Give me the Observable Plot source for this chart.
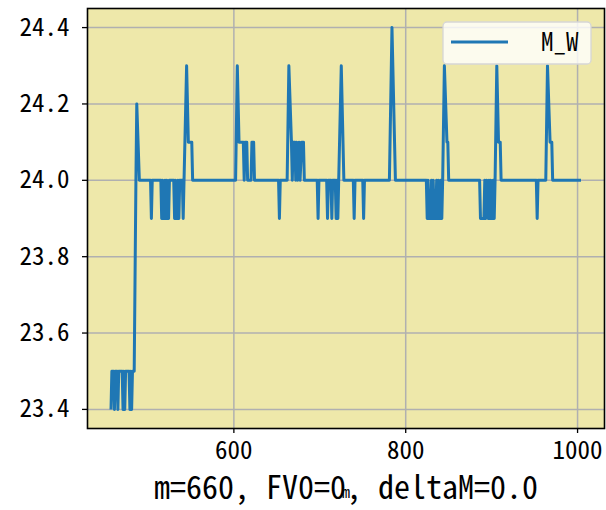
<!DOCTYPE html>
<html>
<head>
<meta charset="utf-8">
<script src="https://cdn.jsdelivr.net/npm/d3@7"></script>
<script src="https://cdn.jsdelivr.net/npm/@observablehq/plot@0.6"></script>
<style>
  html, body { margin: 0; padding: 0; background: #fff; }
  #chart svg { font-family: "Noto Sans CJK SC", "DejaVu Sans Mono", monospace; font-feature-settings: "hwid" 1; }
</style>
</head>
<body>
<div id="chart"></div>
<script>
const mValues = [457,458,460,461,462,464,465,466,470,471,472,473,474,478,479,480,481,482,484,486,487,490,
  503,504,505,515,516,517,518,519,520,521,522,523,524,525,530,531,532,533,534,535,536,537,540,541,542,545,547,551,552,
  602,604,606,611,612,613,615,616,620,621,623,624,652,653,654,662,664,667,668,669,671,672,673,674,676,677,679,681,682,
  697,698,699,708,709,710,713,714,715,718,719,720,721,722,725,728,739,740,741,750,751,752,781,784,787,788,
  824,825,826,827,829,830,831,832,833,835,836,837,838,839,840,841,842,843,845,848,849,850,
  886,887,891,892,893,894,896,897,898,899,900,901,902,903,904,906,908,910,911,952,953,954,963,965,968,970,971,1004];
const mwValues = [23.4,23.5,23.5,23.4,23.5,23.5,23.4,23.5,23.5,23.4,23.5,23.4,23.5,23.5,23.4,23.5,23.4,23.5,23.5,24.0,24.2,24.0,
  24.0,23.9,24.0,24.0,23.9,24.0,23.9,23.9,24.0,23.9,24.0,23.9,23.9,24.0,24.0,23.9,24.0,23.9,23.9,24.0,23.9,24.0,24.0,23.9,24.0,24.3,24.1,24.1,24.0,
  24.0,24.3,24.1,24.1,24.0,24.1,24.1,24.0,24.0,24.1,24.1,24.0,24.0,23.9,24.0,24.0,24.3,24.1,24.0,24.1,24.1,24.0,24.1,24.0,24.1,24.0,24.1,24.1,24.0,
  24.0,23.9,24.0,24.0,23.9,24.0,24.0,23.9,24.0,24.0,23.9,24.0,23.9,24.0,24.3,24.0,24.0,23.9,24.0,24.0,23.9,24.0,24.0,24.4,24.1,24.0,
  24.0,23.9,24.0,23.9,23.9,24.0,23.9,24.0,23.9,23.9,24.0,23.9,24.0,23.9,23.9,24.0,23.9,24.0,24.3,24.1,24.1,24.0,
  24.0,23.9,23.9,24.0,23.9,24.0,23.9,24.0,23.9,24.0,23.9,23.9,24.0,23.9,24.0,24.3,24.1,24.1,24.0,24.0,23.9,24.0,24.0,24.3,24.1,24.1,24.0,24.0];
const xTicks = [600, 800, 1000];
const yTicks = [23.4, 23.6, 23.8, 24.0, 24.2, 24.4];
const seriesName = "M_W";
const xLabel = "m";
const noteText = "m=660, FV0=0, deltaM=0.0";

const data = mValues.map((m, i) => ({m, v: mwValues[i]}));
const xMin = d3.min(mValues), xMax = d3.max(mValues);
const yMin = d3.min(mwValues), yMax = d3.max(mwValues);
const xPad = (xMax - xMin) * 0.05, yPad = (yMax - yMin) * 0.05;

const chart = Plot.plot({
  width: 606,
  height: 510,
  marginLeft: 87,
  marginRight: 2,
  marginTop: 8,
  marginBottom: 82,
  style: {fontSize: "25px", color: "#000", background: "#fff"},
  x: {domain: [xMin - xPad, xMax + xPad]},
  y: {domain: [yMin - yPad, yMax + yPad]},
  marks: [
    Plot.frame({fill: "#eee8aa", stroke: null}),
    Plot.gridX(xTicks, {stroke: "#b0b0b0", strokeOpacity: 1, strokeWidth: 1.5}),
    Plot.gridY(yTicks, {stroke: "#b0b0b0", strokeOpacity: 1, strokeWidth: 1.5}),
    Plot.line(data, {x: "m", y: "v", stroke: "#1f77b4", strokeWidth: 3, strokeLinejoin: "round", strokeLinecap: "butt"}),
    Plot.frame({stroke: "#000", strokeWidth: 1.6}),
    Plot.axisX(xTicks, {tickSize: 5, tickPadding: 8, fontSize: 25, label: null, strokeWidth: 1.3, tickFormat: d => String(d)}),
    Plot.axisY(yTicks, {tickSize: 5, tickPadding: 13, fontSize: 25, label: null, tickFormat: d => d.toFixed(1), strokeWidth: 1.3}),
    Plot.text([noteText], {frameAnchor: "bottom", dy: 60, fontSize: 32, text: d => d, lineAnchor: "middle"}),
    Plot.text([xLabel], {frameAnchor: "bottom", dy: 64, fontSize: 16, text: d => d, lineAnchor: "middle"})
  ]
});
document.getElementById("chart").appendChild(chart);

// legend (upper right, matplotlib style)
const svg = d3.select(chart);
const lg = svg.append("g").attr("text-anchor", "start");
lg.append("rect").attr("x", 443).attr("y", 22).attr("width", 148).attr("height", 42)
  .attr("rx", 4).attr("fill", "#fff").attr("fill-opacity", 0.8)
  .attr("stroke", "#d6d6d6").attr("stroke-width", 1.3);
lg.append("line").attr("x1", 451).attr("x2", 508).attr("y1", 42).attr("y2", 42)
  .attr("stroke", "#1f77b4").attr("stroke-width", 3);
lg.append("text").attr("x", 541).attr("y", 42).attr("dy", "0.35em")
  .attr("font-size", 25).attr("fill", "#000").text(seriesName);
</script>
</body>
</html>
